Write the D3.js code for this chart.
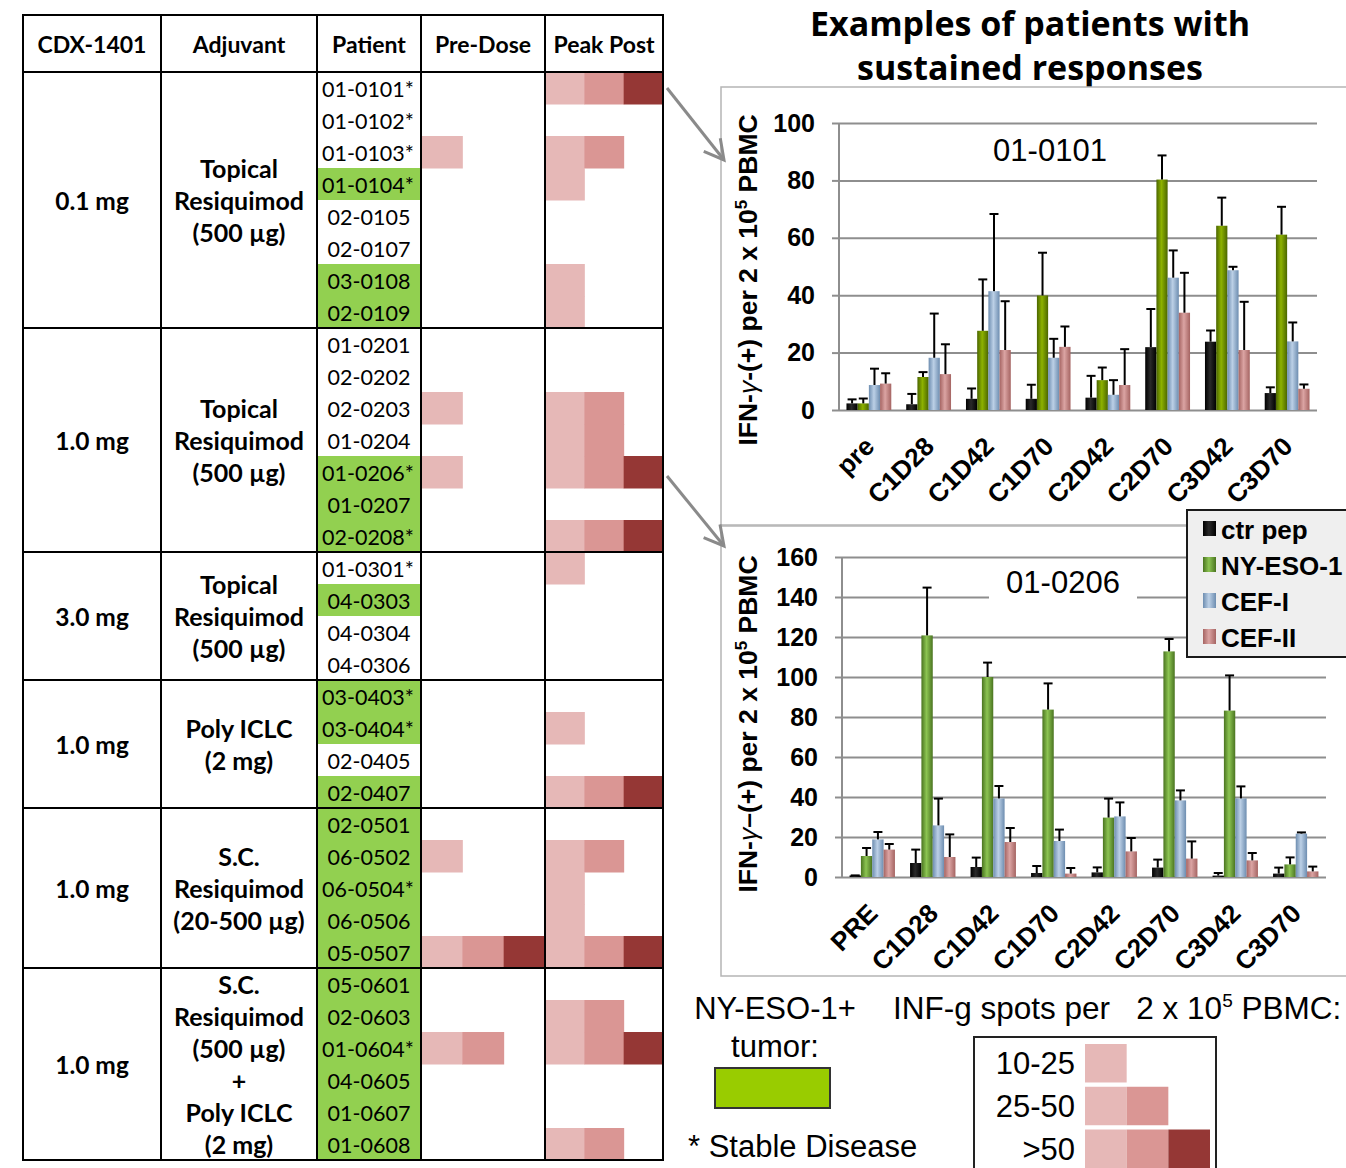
<!DOCTYPE html>
<html>
<head>
<meta charset="utf-8">
<script src="https://cdn.jsdelivr.net/npm/d3@7"></script>
<style>
body { margin: 0; background: #fff; }
svg { display: block; }
</style>
</head>
<body>
<script>
// ---- table data ----
var doses = ["0.1 mg", "1.0 mg", "3.0 mg", "1.0 mg", "1.0 mg", "1.0 mg"];
var adjuvants = [
  ["Topical", "Resiquimod", "(500 µg)"],
  ["Topical", "Resiquimod", "(500 µg)"],
  ["Topical", "Resiquimod", "(500 µg)"],
  ["Poly ICLC", "(2 mg)"],
  ["S.C.", "Resiquimod", "(20-500 µg)"],
  ["S.C.", "Resiquimod", "(500 µg)", "+", "Poly ICLC", "(2 mg)"]
];
var groupSizes = [8, 7, 4, 4, 5, 6];
var patients = [
  "01-0101*", "01-0102*", "01-0103*", "01-0104*", "02-0105", "02-0107", "03-0108", "02-0109",
  "01-0201", "02-0202", "02-0203", "01-0204", "01-0206*", "01-0207", "02-0208*",
  "01-0301*", "04-0303", "04-0304", "04-0306",
  "03-0403*", "03-0404*", "02-0405", "02-0407",
  "02-0501", "06-0502", "06-0504*", "06-0506", "05-0507",
  "05-0601", "02-0603", "01-0604*", "04-0605", "01-0607", "01-0608"
];
var nyEsoPos = [0,0,0,1,0,0,1,1, 0,0,0,0,1,1,1, 0,1,0,0, 1,1,0,1, 1,1,1,1,1, 1,1,1,1,1,1];
// 0 = <10, 1 = 10-25, 2 = 25-50, 3 = >50
var preDose  = [0,0,1,0,0,0,0,0, 0,0,1,0,1,0,0, 0,0,0,0, 0,0,0,0, 0,1,0,0,3, 0,0,2,0,0,0];
var peakPost = [3,0,2,1,0,0,1,1, 0,0,2,2,3,0,3, 1,0,0,0, 0,1,0,3, 0,2,1,1,3, 0,2,3,0,0,2];
var headers = ["CDX-1401", "Adjuvant", "Patient", "Pre-Dose", "Peak Post"];
var levelLabels = ["10-25", "25-50", ">50"];

// ---- chart data (bar value and top of error bar) ----
var seriesNames = ["ctr pep", "NY-ESO-1", "CEF-I", "CEF-II"];
var timepoints1 = ["pre", "C1D28", "C1D42", "C1D70", "C2D42", "C2D70", "C3D42", "C3D70"];
var ctr1    = [2.3, 2.0, 3.9, 3.9, 4.3, 21.9, 23.8, 5.9];
var ctr1Hi  = [3.7, 5.6, 7.5, 8.8, 11.9, 35.2, 27.7, 7.9];
var eso1    = [2.3, 11.5, 27.6, 39.9, 10.4, 80.3, 64.2, 61.1];
var eso1Hi  = [4.0, 13.2, 45.5, 54.8, 14.8, 88.7, 74.0, 70.8];
var cefI1   = [8.7, 18.2, 41.4, 18.2, 5.3, 46.1, 48.7, 23.9];
var cefI1Hi = [14.4, 33.6, 68.3, 24.8, 10.4, 55.6, 49.9, 30.5];
var cefII1  = [9.2, 12.5, 20.9, 22.0, 8.7, 33.9, 20.9, 7.4];
var cefII1Hi= [12.8, 22.9, 37.9, 29.1, 21.2, 47.8, 37.7, 8.9];

var timepoints2 = ["PRE", "C1D28", "C1D42", "C1D70", "C2D42", "C2D70", "C3D42", "C3D70"];
var ctr2    = [0.8, 7.0, 5.0, 2.0, 2.3, 4.7, 0.7, 1.7];
var ctr2Hi  = [0.8, 13.7, 9.7, 5.5, 4.8, 8.7, 2.0, 4.7];
var eso2    = [10.5, 120.8, 100.0, 83.7, 29.7, 112.8, 83.2, 6.3];
var eso2Hi  = [14.5, 144.7, 107.2, 96.8, 39.2, 119.0, 100.8, 9.8];
var cefI2   = [18.8, 25.8, 39.3, 18.0, 30.3, 38.3, 39.3, 21.7];
var cefI2Hi = [22.5, 39.2, 45.5, 23.7, 37.3, 43.3, 45.3, 22.3];
var cefII2  = [13.7, 10.0, 17.5, 1.7, 12.8, 9.2, 8.3, 2.8];
var cefII2Hi= [16.5, 21.3, 24.5, 4.5, 19.5, 17.8, 12.0, 5.2];

var heatColors = ["#e6b8b7", "#da9694", "#953735"];
var posGreen = "#92d050";

var W = 1346, H = 1168;
var svg = d3.select("body").append("svg")
  .attr("width", W).attr("height", H)
  .attr("viewBox", "0 0 " + W + " " + H);

var defs = svg.append("defs");

// ---------------- TABLE ----------------
var tableFont = "Lato, 'Open Sans', sans-serif";
var colX = [23, 161, 317, 421, 545, 663];
var headTop = 15, bodyTop = 72, bodyBottom = 1160;

var rowScale = d3.scaleBand()
  .domain(d3.range(patients.length))
  .range([bodyTop, bodyBottom]);

var table = svg.append("g");

// green background of NY-ESO-1+ patients
table.selectAll("rect.pos")
  .data(patients.map(function(p, i) { return i; }).filter(function(i) { return nyEsoPos[i]; }))
  .enter().append("rect")
  .attr("x", colX[2]).attr("y", function(i) { return rowScale(i); })
  .attr("width", colX[3] - colX[2]).attr("height", rowScale.bandwidth())
  .attr("fill", posGreen);

// heat cells
function heatColumn(levels, c0, c1) {
  var sub = d3.scaleBand().domain([0, 1, 2]).range([c0, c1]);
  var cells = [];
  levels.forEach(function(lv, i) {
    for (var k = 0; k < lv; k++) cells.push({row: i, k: k});
  });
  table.append("g").selectAll("rect")
    .data(cells).enter().append("rect")
    .attr("x", function(d) { return sub(d.k); })
    .attr("y", function(d) { return rowScale(d.row); })
    .attr("width", sub.bandwidth() + 0.5)
    .attr("height", rowScale.bandwidth() + 0.5)
    .attr("fill", function(d) { return heatColors[d.k]; });
}
heatColumn(preDose, colX[3], colX[4]);
heatColumn(peakPost, colX[4], colX[5]);

// patient ids
table.append("g").selectAll("text")
  .data(patients).enter().append("text")
  .attr("x", function(d) { return d.indexOf("*") > -1 ? 322 : (colX[2] + colX[3]) / 2; })
  .attr("y", function(d, i) { return rowScale(i) + rowScale.bandwidth() / 2; })
  .attr("dy", "0.42em")
  .attr("text-anchor", function(d) { return d.indexOf("*") > -1 ? "start" : "middle"; })
  .attr("font-family", tableFont).attr("font-size", 21.5)
  .attr("fill", "#000")
  .text(function(d) { return d; });

// headers
table.append("g").selectAll("text")
  .data(headers).enter().append("text")
  .attr("x", function(d, i) { return (colX[i] + colX[i + 1]) / 2; })
  .attr("y", (headTop + bodyTop) / 2)
  .attr("dy", "0.4em")
  .attr("text-anchor", "middle")
  .attr("font-family", tableFont).attr("font-weight", "bold").attr("font-size", 23)
  .text(function(d) { return d; });

// groups
var groupStarts = [];
var acc = 0;
groupSizes.forEach(function(n) { groupStarts.push(acc); acc += n; });
var groups = groupSizes.map(function(n, g) {
  var y0 = rowScale(groupStarts[g]);
  var y1 = rowScale(groupStarts[g] + n - 1) + rowScale.bandwidth();
  return {y0: y0, y1: y1, mid: (y0 + y1) / 2, dose: doses[g], adj: adjuvants[g]};
});

table.append("g").selectAll("text")
  .data(groups).enter().append("text")
  .attr("x", (colX[0] + colX[1]) / 2)
  .attr("y", function(d) { return d.mid; })
  .attr("dy", "0.4em")
  .attr("text-anchor", "middle")
  .attr("font-family", tableFont).attr("font-weight", "bold").attr("font-size", 24.5)
  .text(function(d) { return d.dose; });

groups.forEach(function(g) {
  var n = g.adj.length;
  table.append("g").selectAll("text")
    .data(g.adj).enter().append("text")
    .attr("x", (colX[1] + colX[2]) / 2)
    .attr("y", function(d, i) { return g.mid + (i - (n - 1) / 2) * rowScale.bandwidth(); })
    .attr("dy", "0.4em")
    .attr("text-anchor", "middle")
    .attr("font-family", tableFont).attr("font-weight", "bold").attr("font-size", 25)
    .text(function(d) { return d; });
});

// grid lines of table
var lines = table.append("g").attr("stroke", "#000").attr("stroke-width", 2);
lines.selectAll("line.v").data(colX).enter().append("line")
  .attr("x1", function(d) { return d; }).attr("x2", function(d) { return d; })
  .attr("y1", headTop).attr("y2", bodyBottom);
var hLines = [headTop, bodyTop].concat(groups.map(function(g) { return g.y1; }));
lines.selectAll("line.h").data(hLines).enter().append("line")
  .attr("x1", colX[0] - 1).attr("x2", colX[5] + 1)
  .attr("y1", function(d) { return d; }).attr("y2", function(d) { return d; });

// ---------------- TITLE ----------------
svg.append("g").selectAll("text")
  .data(["Examples of patients with", "sustained responses"])
  .enter().append("text")
  .attr("x", 1030).attr("y", function(d, i) { return 36 + i * 44; })
  .attr("text-anchor", "middle")
  .attr("font-family", "'Open Sans', Lato, sans-serif").attr("font-weight", "bold")
  .attr("font-size", 34)
  .text(function(d) { return d; });

// ---------------- CHARTS ----------------
var chartFont = "'Liberation Sans', Arial, sans-serif";

function makeGrad(id, edge, mid) {
  var g = defs.append("linearGradient").attr("id", id)
    .attr("x1", "0%").attr("x2", "100%").attr("y1", "0%").attr("y2", "0%");
  g.append("stop").attr("offset", "0%").attr("stop-color", edge);
  g.append("stop").attr("offset", "45%").attr("stop-color", mid);
  g.append("stop").attr("offset", "100%").attr("stop-color", edge);
}
makeGrad("gBlack", "#000", "#2a2a2a");
makeGrad("gGreen1", "#4b6600", "#8db200");
makeGrad("gGreen2", "#4a7420", "#8cc452");
makeGrad("gBlue", "#6d8db0", "#bcd0e6");
makeGrad("gPink", "#a56462", "#dba4a3");

function drawChart(cfg) {
  var g = svg.append("g");
  g.append("rect")
    .attr("x", cfg.frame[0]).attr("y", cfg.frame[1])
    .attr("width", cfg.frame[2]).attr("height", cfg.frame[3])
    .attr("fill", "#fff").attr("stroke", "#b5b5b5").attr("stroke-width", 1.5);

  var y = d3.scaleLinear().domain([0, cfg.max]).range([cfg.y0, cfg.y1]);
  var x = d3.scaleBand().domain(cfg.cats).range([cfg.x0, cfg.x1])
    .paddingInner(0.25).paddingOuter(0.125);
  var xs = d3.scaleBand().domain(d3.range(4)).range([0, x.bandwidth()]);

  // gridlines + tick labels
  var axis = d3.axisLeft(y).tickValues(d3.range(0, cfg.max + 1, cfg.step))
    .tickSize(-(cfg.x1 - cfg.x0)).tickPadding(24);
  var ag = g.append("g").attr("transform", "translate(" + cfg.x0 + ",0)").call(axis);
  ag.select(".domain").remove();
  ag.selectAll(".tick line").attr("stroke", "#8e8e8e").attr("stroke-width", 2);
  ag.selectAll(".tick").append("line")
    .attr("x1", -7).attr("x2", 0).attr("stroke", "#8e8e8e").attr("stroke-width", 2);
  ag.selectAll(".tick text")
    .attr("font-family", chartFont).attr("font-weight", "bold").attr("font-size", 25)
    .attr("fill", "#000");
  g.append("line")
    .attr("x1", cfg.x0).attr("x2", cfg.x0).attr("y1", y(0)).attr("y2", y(cfg.max))
    .attr("stroke", "#8e8e8e").attr("stroke-width", 2);

  // title
  if (cfg.titleBg) {
    g.append("rect").attr("x", cfg.titleX - 74).attr("y", cfg.titleY - 26)
      .attr("width", 148).attr("height", 40).attr("fill", "#fff");
  }
  g.append("text").attr("x", cfg.titleX).attr("y", cfg.titleY)
    .attr("text-anchor", "middle")
    .attr("font-family", chartFont).attr("font-size", 31)
    .text(cfg.title);

  // bars
  var fills = ["url(#gBlack)", cfg.green, "url(#gBlue)", "url(#gPink)"];
  var bars = [];
  cfg.series.forEach(function(s, si) {
    s.vals.forEach(function(v, ci) {
      bars.push({cat: cfg.cats[ci], s: si, v: v, hi: s.hi[ci]});
    });
  });
  g.append("g").selectAll("rect").data(bars).enter().append("rect")
    .attr("x", function(d) { return x(d.cat) + xs(d.s); })
    .attr("y", function(d) { return y(d.v); })
    .attr("width", xs.bandwidth())
    .attr("height", function(d) { return y(0) - y(d.v); })
    .attr("fill", function(d) { return fills[d.s]; });

  // error bars
  var eg = g.append("g").attr("stroke", "#000").attr("stroke-width", 2);
  eg.selectAll("line.stem").data(bars).enter().append("line")
    .attr("x1", function(d) { return x(d.cat) + xs(d.s) + xs.bandwidth() / 2; })
    .attr("x2", function(d) { return x(d.cat) + xs(d.s) + xs.bandwidth() / 2; })
    .attr("y1", function(d) { return y(d.v); })
    .attr("y2", function(d) { return y(d.hi); });
  eg.selectAll("line.cap").data(bars).enter().append("line")
    .attr("x1", function(d) { return x(d.cat) + xs(d.s) + xs.bandwidth() / 2 - 4.5; })
    .attr("x2", function(d) { return x(d.cat) + xs(d.s) + xs.bandwidth() / 2 + 4.5; })
    .attr("y1", function(d) { return y(d.hi); })
    .attr("y2", function(d) { return y(d.hi); });

  // category labels
  g.append("g").selectAll("text").data(cfg.cats).enter().append("text")
    .attr("transform", function(d) {
      return "translate(" + (x(d) + x.bandwidth() / 2 + 7) + "," + (y(0) + 38) + ") rotate(-45)";
    })
    .attr("text-anchor", "end")
    .attr("font-family", chartFont).attr("font-weight", "bold").attr("font-size", 26)
    .text(function(d) { return d; });

  // y axis title
  var yt = g.append("text")
    .attr("transform", "translate(" + cfg.yTitleX + "," + cfg.yTitleY + ") rotate(-90)")
    .attr("text-anchor", "middle")
    .attr("font-family", chartFont).attr("font-weight", "bold").attr("font-size", 26.5);
  yt.append("tspan").text("IFN-");
  yt.append("tspan").attr("font-weight", "normal").attr("font-style", "italic").text("γ");
  yt.append("tspan").text(cfg.dash + "(+) per 2 x 10");
  yt.append("tspan").attr("font-size", 17).attr("dy", -10).text("5");
  yt.append("tspan").attr("dy", 10).text(" PBMC");
  return g;
}

drawChart({
  frame: [721, 87, 660, 438], cats: timepoints1, max: 100, step: 20,
  x0: 839, x1: 1317, y0: 410, y1: 123,
  title: "01-0101", titleX: 1050, titleY: 161, titleBg: false,
  green: "url(#gGreen1)", dash: "-",
  yTitleX: 757, yTitleY: 280,
  series: [
    {vals: ctr1, hi: ctr1Hi}, {vals: eso1, hi: eso1Hi},
    {vals: cefI1, hi: cefI1Hi}, {vals: cefII1, hi: cefII1Hi}
  ]
});

drawChart({
  frame: [721, 526, 660, 450], cats: timepoints2, max: 160, step: 20,
  x0: 842, x1: 1326, y0: 877, y1: 557,
  title: "01-0206", titleX: 1063, titleY: 593, titleBg: true,
  green: "url(#gGreen2)", dash: "–",
  yTitleX: 757, yTitleY: 724,
  series: [
    {vals: ctr2, hi: ctr2Hi}, {vals: eso2, hi: eso2Hi},
    {vals: cefI2, hi: cefI2Hi}, {vals: cefII2, hi: cefII2Hi}
  ]
});

// legend of bar series
var lg = svg.append("g");
lg.append("rect").attr("x", 1187).attr("y", 510).attr("width", 180).attr("height", 147)
  .attr("fill", "#efefef").attr("stroke", "#1a1a1a").attr("stroke-width", 2);
var legFills = ["url(#gBlack)", "url(#gGreen2)", "url(#gBlue)", "url(#gPink)"];
var legY = d3.scalePoint().domain(seriesNames).range([530, 638]);
lg.selectAll("rect.sw").data(seriesNames).enter().append("rect")
  .attr("x", 1203).attr("y", function(d) { return legY(d) - 9; })
  .attr("width", 13).attr("height", 15)
  .attr("fill", function(d, i) { return legFills[i]; });
lg.selectAll("text").data(seriesNames).enter().append("text")
  .attr("x", 1221).attr("y", function(d) { return legY(d); })
  .attr("dy", "0.36em")
  .attr("font-family", chartFont).attr("font-weight", "bold").attr("font-size", 26)
  .text(function(d) { return d; });

// arrows
var arrows = [[667, 88, 724, 160], [667, 476, 724, 546]];
svg.append("g").selectAll("line").data(arrows).enter().append("line")
  .attr("x1", function(d) { return d[0]; }).attr("y1", function(d) { return d[1]; })
  .attr("x2", function(d) { return d[2]; }).attr("y2", function(d) { return d[3]; })
  .attr("stroke", "#8a8a8a").attr("stroke-width", 3);
svg.append("g").selectAll("path").data(arrows).enter().append("path")
  .attr("d", function(d) {
    var a = Math.atan2(d[3] - d[1], d[2] - d[0]), L = 22, s = 0.5;
    return "M" + (d[2] - L * Math.cos(a - s)) + "," + (d[3] - L * Math.sin(a - s)) +
      "L" + d[2] + "," + d[3] +
      "L" + (d[2] - L * Math.cos(a + s)) + "," + (d[3] - L * Math.sin(a + s));
  })
  .attr("fill", "none").attr("stroke", "#8a8a8a").attr("stroke-width", 3);

// ---------------- BOTTOM LEGEND ----------------
var bl = svg.append("g").attr("font-family", chartFont).attr("font-size", 31);
bl.append("text").attr("x", 775).attr("y", 1019).attr("text-anchor", "middle").text("NY-ESO-1+");
bl.append("text").attr("x", 775).attr("y", 1057).attr("text-anchor", "middle").text("tumor:");
bl.append("rect").attr("x", 715).attr("y", 1068).attr("width", 115).attr("height", 40)
  .attr("fill", "#99cc00").attr("stroke", "#333").attr("stroke-width", 2);
bl.append("text").attr("x", 688).attr("y", 1157).text("* Stable Disease");
var t2 = bl.append("text").attr("x", 893).attr("y", 1019).attr("font-size", 31.5);
t2.append("tspan").text("INF-g spots per\u00a0\u00a0 2 x 10");
t2.append("tspan").attr("font-size", 19).attr("dy", -12).text("5");
t2.append("tspan").attr("dy", 12).text(" PBMC:");

bl.append("rect").attr("x", 974).attr("y", 1037).attr("width", 242).attr("height", 150)
  .attr("fill", "#fff").attr("stroke", "#222").attr("stroke-width", 2);
var keyY = d3.scaleBand().domain(levelLabels).range([1044, 1168]).paddingInner(0.1);
var keyX = d3.scaleBand().domain([0, 1, 2]).range([1085, 1210]);
bl.selectAll("text.k").data(levelLabels).enter().append("text")
  .attr("x", 1075).attr("y", function(d) { return keyY(d) + keyY.bandwidth() / 2; })
  .attr("dy", "0.36em").attr("text-anchor", "end")
  .text(function(d) { return d; });
var keyCells = [];
levelLabels.forEach(function(l, li) {
  for (var k = 0; k <= li; k++) keyCells.push({l: l, k: k});
});
bl.selectAll("rect.kc").data(keyCells).enter().append("rect")
  .attr("x", function(d) { return keyX(d.k); })
  .attr("y", function(d) { return keyY(d.l); })
  .attr("width", keyX.bandwidth())
  .attr("height", keyY.bandwidth())
  .attr("fill", function(d) { return heatColors[d.k]; });
</script>
</body>
</html>
